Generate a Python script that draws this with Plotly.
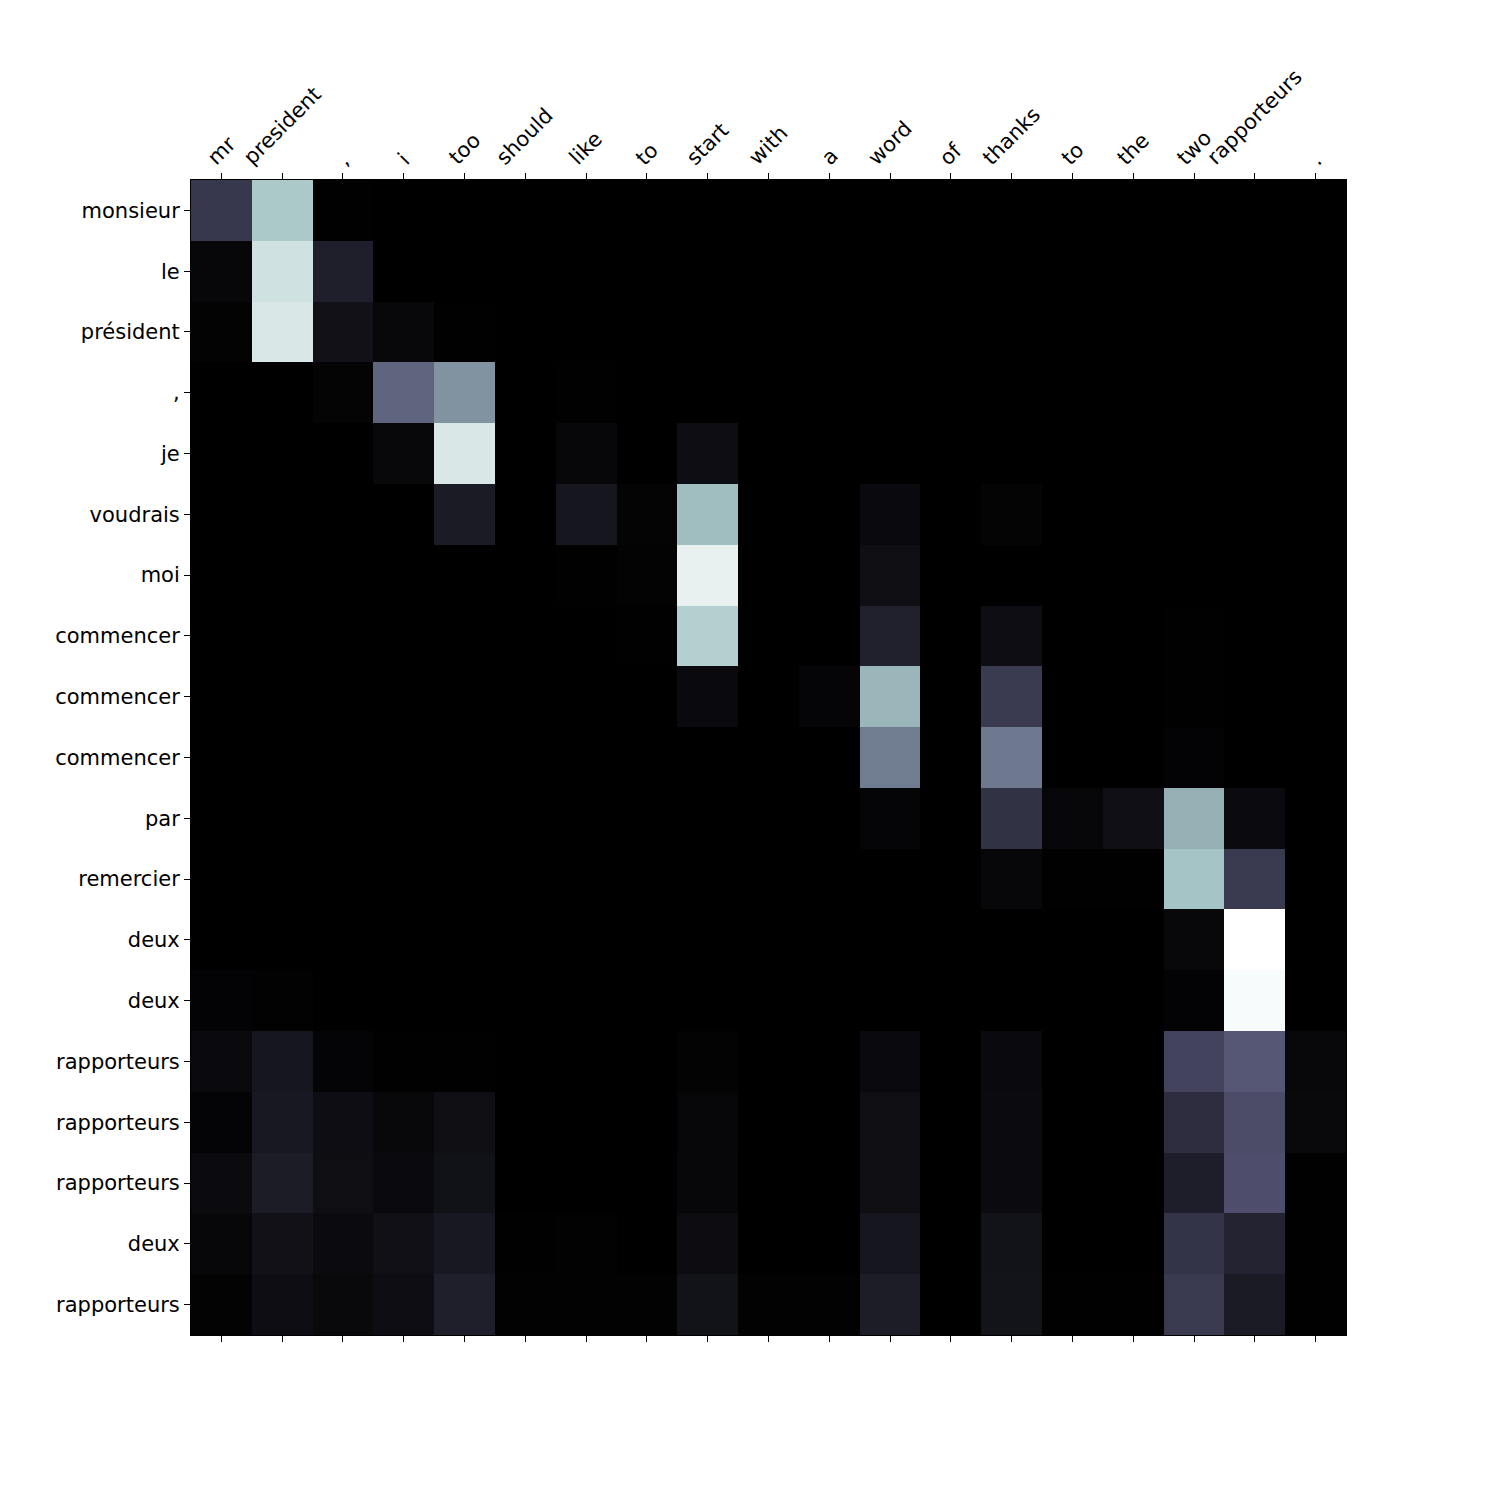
import plotly.graph_objects as go

x_labels = ["mr", "president", ",", "i", "too", "should", "like", "to", "start", "with",
            "a", "word", "of", "thanks", "to", "the", "two", "rapporteurs", "."]
y_labels = ["monsieur", "le", "président", ",", "je", "voudrais", "moi", "commencer",
            "commencer", "commencer", "par", "remercier", "deux", "deux", "rapporteurs",
            "rapporteurs", "rapporteurs", "deux", "rapporteurs"]

attention = [
    [0.25, 0.76, 0.005, 0, 0, 0, 0, 0, 0, 0, 0, 0, 0, 0, 0, 0, 0, 0, 0],
    [0.03, 0.865, 0.14, 0, 0, 0, 0, 0, 0, 0, 0, 0, 0, 0, 0, 0, 0, 0, 0],
    [0.012, 0.894, 0.075, 0.035, 0.005, 0, 0, 0, 0, 0, 0, 0, 0, 0, 0, 0, 0, 0, 0],
    [0.002, 0.002, 0.017, 0.43, 0.58, 0, 0.003, 0, 0, 0, 0, 0, 0, 0, 0, 0, 0, 0, 0],
    [0, 0, 0, 0.035, 0.894, 0, 0.03, 0, 0.06, 0, 0, 0, 0, 0, 0, 0, 0, 0, 0],
    [0, 0, 0, 0, 0.12, 0, 0.10, 0.017, 0.717, 0, 0, 0.045, 0, 0.017, 0, 0, 0, 0, 0],
    [0, 0, 0, 0, 0, 0, 0.005, 0.013, 0.934, 0, 0, 0.063, 0, 0, 0, 0, 0, 0, 0],
    [0, 0, 0, 0, 0, 0, 0, 0.005, 0.785, 0, 0, 0.148, 0, 0.06, 0, 0, 0.005, 0, 0],
    [0, 0, 0, 0, 0, 0, 0, 0, 0.045, 0, 0.022, 0.695, 0, 0.26, 0, 0, 0.005, 0, 0],
    [0, 0, 0, 0, 0, 0, 0, 0, 0, 0, 0, 0.506, 0, 0.493, 0, 0, 0.015, 0, 0],
    [0, 0, 0, 0, 0, 0, 0, 0, 0, 0, 0, 0.022, 0, 0.224, 0.027, 0.067, 0.672, 0.05, 0],
    [0, 0, 0, 0, 0, 0, 0, 0, 0, 0, 0, 0, 0, 0.032, 0.003, 0.004, 0.74, 0.255, 0],
    [0, 0, 0, 0, 0, 0, 0, 0, 0, 0, 0, 0, 0, 0, 0, 0, 0.035, 1.0, 0],
    [0.015, 0.008, 0, 0, 0, 0, 0, 0, 0, 0, 0, 0, 0, 0, 0, 0, 0.015, 0.98, 0],
    [0.045, 0.10, 0.02, 0.003, 0.005, 0, 0, 0, 0.012, 0, 0, 0.045, 0, 0.045, 0, 0, 0.30, 0.385, 0.035],
    [0.02, 0.11, 0.06, 0.035, 0.063, 0, 0, 0, 0.027, 0, 0, 0.063, 0, 0.05, 0, 0, 0.205, 0.336, 0.04],
    [0.05, 0.125, 0.063, 0.045, 0.078, 0, 0, 0, 0.03, 0, 0, 0.063, 0, 0.05, 0, 0, 0.135, 0.35, 0.005],
    [0.03, 0.075, 0.05, 0.072, 0.11, 0.005, 0.008, 0, 0.055, 0, 0, 0.10, 0, 0.08, 0, 0, 0.235, 0.157, 0.003],
    [0.013, 0.06, 0.04, 0.06, 0.14, 0.01, 0.01, 0.01, 0.08, 0.01, 0.01, 0.13, 0, 0.085, 0.005, 0.005, 0.255, 0.12, 0.005],
]

# matplotlib "bone" colormap
bone = [
    [0.0, "rgb(0,0,0)"],
    [0.365079, "rgb(81,81,113)"],
    [0.746032, "rgb(166,198,198)"],
    [1.0, "rgb(255,255,255)"],
]

nx = len(x_labels)
ny = len(y_labels)

fig = go.Figure()
fig.add_trace(go.Heatmap(
    z=attention,
    x=list(range(nx)),
    y=list(range(ny)),
    colorscale=bone,
    zmin=0, zmax=1,
    showscale=False,
    xgap=0, ygap=0,
))
# invisible trace to carry the bottom tick axis
fig.add_trace(go.Scatter(x=[0], y=[0], xaxis="x2", yaxis="y",
                         mode="markers", marker=dict(opacity=0),
                         showlegend=False, hoverinfo="skip"))

font = dict(family="DejaVu Sans", size=21, color="black")

# top labels rotated 45°, centred on their ticks (matplotlib style)
for i, lab in enumerate(x_labels):
    fig.add_annotation(
        x=i, xref="x", y=1, yref="paper",
        text=lab, showarrow=False, textangle=-45,
        xanchor="center", yanchor="bottom", yshift=9,
        font=font, borderpad=0,
    )

fig.update_layout(
    width=1500, height=1500,
    paper_bgcolor="white", plot_bgcolor="white",
    margin=dict(l=191, r=154, t=180, b=165, pad=0),
    font=font,
    showlegend=False,
    xaxis=dict(
        range=[-0.5, nx - 0.5],
        side="top",
        tickmode="array",
        tickvals=list(range(nx)),
        showticklabels=False,
        ticks="outside", ticklen=6, tickwidth=1, tickcolor="black",
        showgrid=False, zeroline=False,
        showline=True, linecolor="black", linewidth=1, mirror=True,
    ),
    xaxis2=dict(
        range=[-0.5, nx - 0.5],
        overlaying="x", side="bottom", anchor="y",
        tickmode="array",
        tickvals=list(range(nx)),
        showticklabels=False,
        ticks="outside", ticklen=6, tickwidth=1, tickcolor="black",
        showgrid=False, zeroline=False, showline=False,
    ),
    yaxis=dict(
        range=[ny - 0.5, -0.5],
        tickmode="array",
        tickvals=list(range(ny)),
        ticktext=y_labels,
        ticks="outside", ticklen=6, tickwidth=1, tickcolor="black",
        showgrid=False, zeroline=False,
        showline=True, linecolor="black", linewidth=1, mirror=True,
        tickfont=font,
    ),
)

fig.write_html("out.html")
